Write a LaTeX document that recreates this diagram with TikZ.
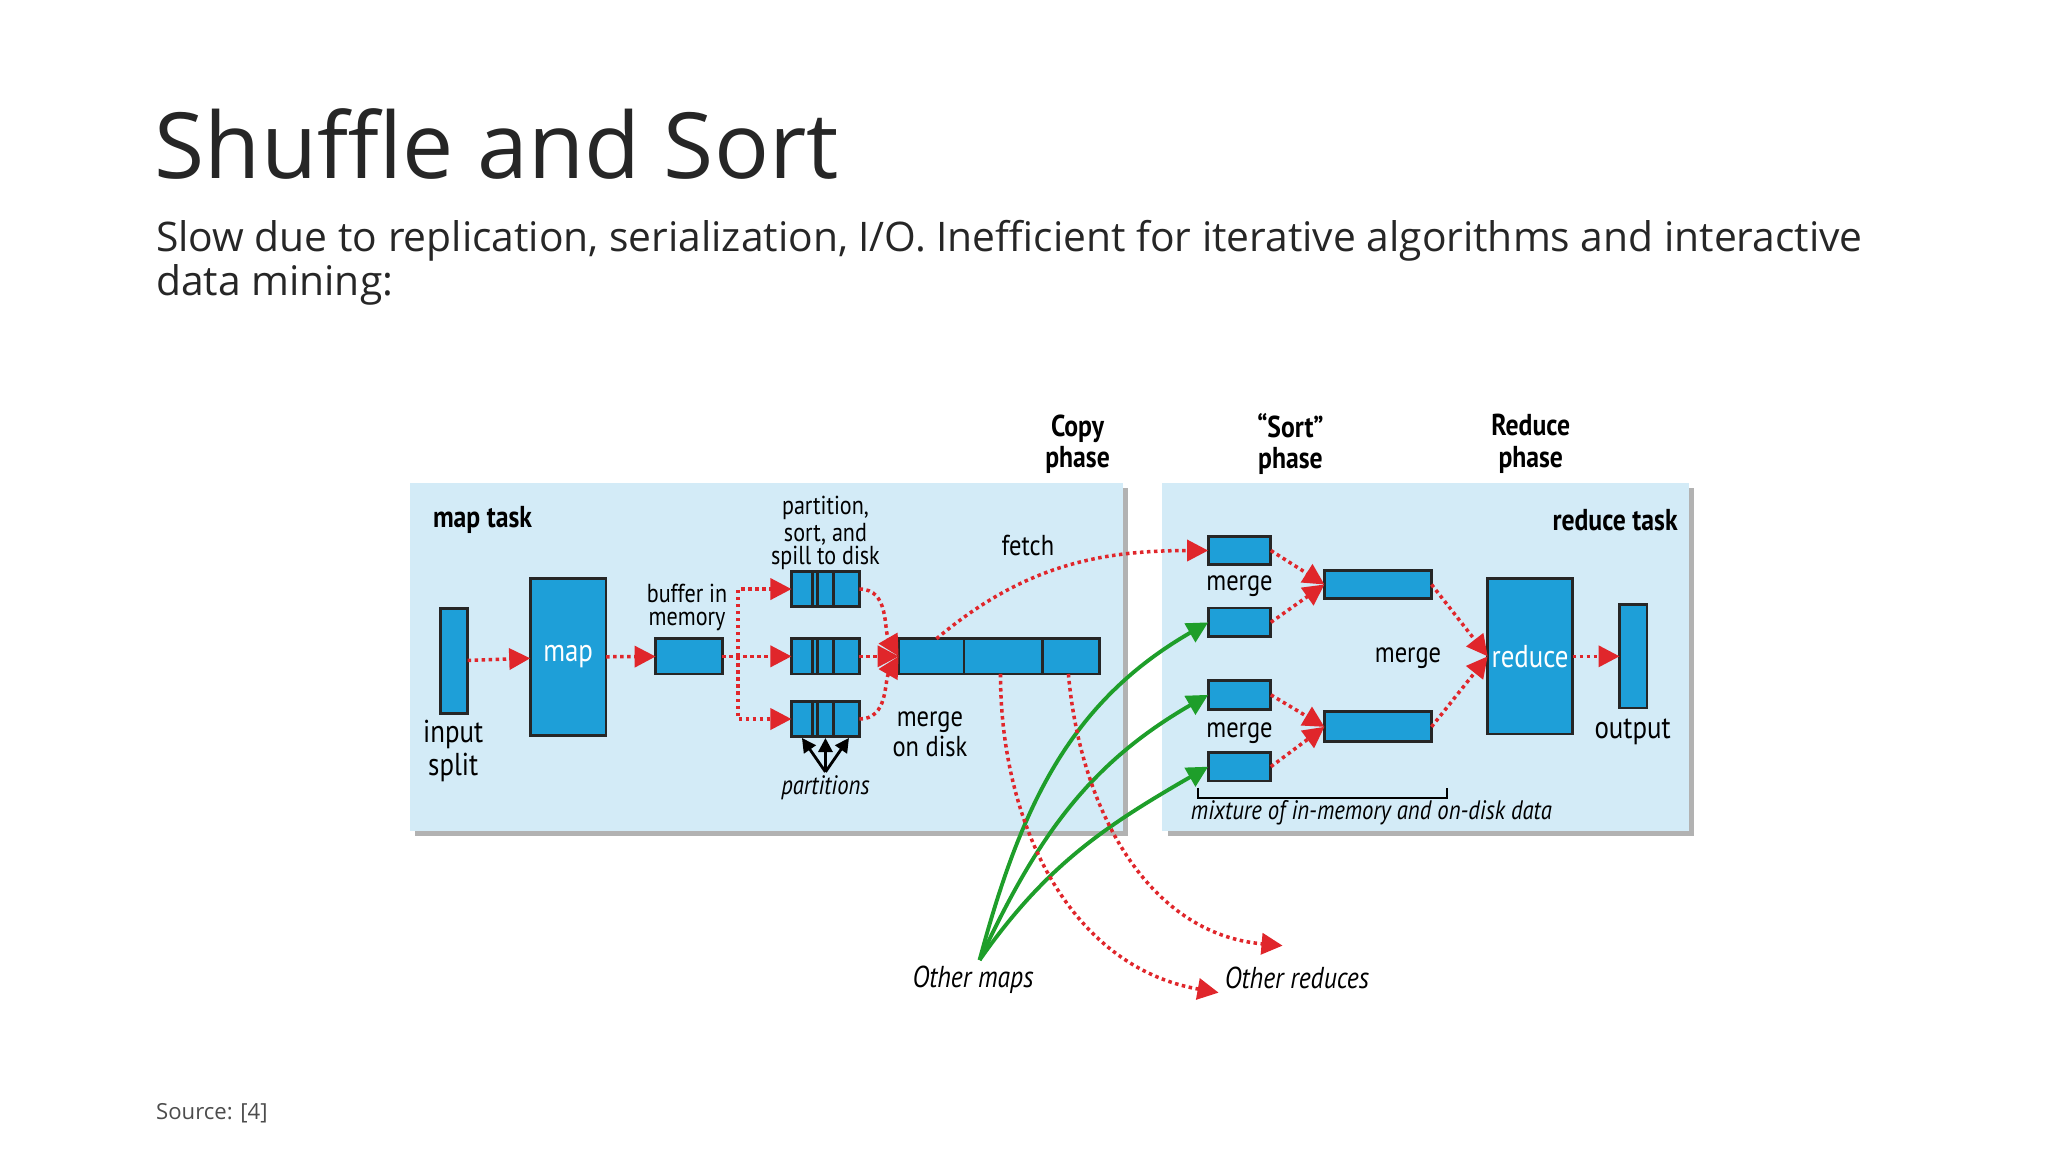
\documentclass[tikz,border=0pt]{standalone}
\usepackage{fontspec}
\setmainfont{Open Sans}
\newfontfamily\dfont{PT Sans}[FakeStretch=0.85]
\usetikzlibrary{arrows.meta,positioning}
\definecolor{panel}{HTML}{D3EBF7}
\definecolor{boxb}{HTML}{1E9FD8}
\definecolor{rd}{HTML}{E0262B}
\definecolor{gr}{HTML}{1E9E2A}
\begin{document}
\begin{tikzpicture}[x=0.01306cm,y=-0.01306cm,
 bx/.style={draw=black!85,line width=0.8pt,fill=boxb,inner sep=0,outer sep=0},
 pan/.style={fill=panel,draw=none},
 lab/.style={font=\dfont\fontsize{7.4}{6.6}\selectfont,align=center,inner sep=0},
 mlab/.style={font=\dfont\fontsize{8.2}{7.4}\selectfont,align=center,inner sep=0},
 blab/.style={font=\dfont\bfseries\fontsize{8.6}{9}\selectfont,align=center,inner sep=0},
 ilab/.style={font=\dfont\itshape\fontsize{7.6}{8}\selectfont,inner sep=0},
 ra/.style={rd,line width=1pt,densely dotted,-{Triangle[length=6pt,width=6pt]}},
 ga/.style={gr,line width=1.1pt,-{Triangle[length=6pt,width=6pt]}}]
\useasboundingbox (0,0) rectangle (1568,882);
\node[anchor=base west,inner sep=0,font=\fontsize{26}{26}\selectfont,text=black!85] (title) at (118,137) {Shuffle and Sort};
\node[anchor=north west,inner sep=0,align=left,font=\fontsize{11.6}{10.5}\selectfont,text=black!85] (sub) at (119,168) {Slow due to replication, serialization, I/O. Inefficient for iterative algorithms and interactive\\data mining:};
\node[anchor=west,inner sep=0,font=\fontsize{6.3}{7}\selectfont,text=black!70] (src) at (119,852) {Source: [4]};
% panels
\fill[black!30] (318,374) rectangle (864,640);
\fill[black!30] (894,374) rectangle (1297,640);
\path[pan] (314,370) rectangle (860,636);
\path[pan] (890,370) rectangle (1293,636);
\node[blab,anchor=west] (mt) at (331,398) {map task};
\node[blab,anchor=east] (rt) at (1285,398) {reduce task};
\node[blab] (cp) at (825,340) {Copy\\phase};
\node[blab] (sp) at (988,340) {“Sort”\\phase};
\node[blab] (rp) at (1172,340) {Reduce\\phase};
% map side
\node[bx,minimum width=21*0.01306cm,minimum height=80*0.01306cm] (in) at (347.5,506) {};
\node[mlab,font=\dfont\fontsize{9}{8}\selectfont] (inl) at (347,575) {input\\split};
\node[bx,minimum width=58*0.01306cm,minimum height=120*0.01306cm,text=white,font=\dfont\fontsize{9}{9}\selectfont] (map) at (435,503) {map};
\node[bx,minimum width=51*0.01306cm,minimum height=27*0.01306cm] (buf) at (527.5,502.5) {};
\node[lab] (bufl) at (526,465) {buffer in\\memory};
\foreach \n/\y in {p1/451,p2/502.5,p3/550.5}{
 \node[bx,minimum width=52*0.01306cm,minimum height=27*0.01306cm] (\n) at (632,\y) {};
 \draw[black!85,line width=0.8pt] (\n.north west)++(16,0) -- ++(0,27) ++(4,0) -- ++(0,-27);
 \draw[black!85,line width=0.8pt] (\n.north west)++(32,0) -- ++(0,27);
}
\node[lab] (psl) at (632,408) {partition,\\sort, and\\spill to disk};
\node[bx,minimum width=154*0.01306cm,minimum height=27*0.01306cm] (mg) at (765,502.5) {};
\draw[black!85,line width=0.8pt] (738,489) -- (738,516) (798,489) -- (798,516);
\node[mlab] (mdl) at (712,562) {merge\\on disk};
\node[ilab] (parts) at (632,603) {partitions};
\coordinate (pt) at (632,591);
\foreach \x in {614,632,650} \draw[black,line width=0.8pt,-{Triangle[length=4pt,width=4pt]}] (pt) -- (\x,565);
\node[mlab] (fetch) at (787,418) {fetch};
\draw[ra] (in) -- (map);
\draw[ra] (map) -- (buf);
\draw[ra] (buf.east) -- ++(12,0) coordinate (br) -- (p2);
\draw[ra] (br) |- (p1);
\draw[ra] (br) |- (p3);
\draw[ra] (p1.east) to[out=0,in=120] (mg.west);
\draw[ra] (p2) -- (mg);
\draw[ra] (p3.east) to[out=0,in=-120] (mg.west);
% reduce side
\foreach \n/\y in {r1/421.5,r2/476.5,r3/532,r4/587}
 \node[bx,minimum width=48*0.01306cm,minimum height=22*0.01306cm] (\n) at (949,\y) {};
\node[mlab] (m1) at (949,449) {merge};
\node[mlab] (m2) at (949,561) {merge};
\node[bx,minimum width=82*0.01306cm,minimum height=21*0.01306cm] (b1) at (1055,447.5) {};
\node[bx,minimum width=82*0.01306cm,minimum height=23*0.01306cm] (b2) at (1055,556.5) {};
\node[mlab] (m3) at (1078,504) {merge};
\node[bx,minimum width=65*0.01306cm,minimum height=119*0.01306cm,text=white,font=\dfont\fontsize{9}{9}\selectfont] (red) at (1171.5,502.5) {reduce};
\node[bx,minimum width=21*0.01306cm,minimum height=79*0.01306cm] (out) at (1250.5,502.5) {};
\node[mlab,font=\dfont\fontsize{9}{8}\selectfont] (outl) at (1250,560) {output};
\draw[ra] (r1.east) -- (b1.west);
\draw[ra] (r2.east) -- (b1.west);
\draw[ra] (r3.east) -- (b2.west);
\draw[ra] (r4.east) -- (b2.west);
\draw[ra] (b1.east) -- (red.west);
\draw[ra] (b2.east) -- (red.west);
\draw[ra] (red) -- (out);
\draw[black,line width=0.6pt] (917,603) -- (917,611) -- (1108,611) -- (1108,603);
\node[ilab] (mix) at (1050,622) {mixture of in-memory and on-disk data};
% other
\node[ilab,font=\dfont\itshape\fontsize{8.6}{9}\selectfont] (om) at (745,750) {Other maps};
\node[ilab,font=\dfont\itshape\fontsize{8.6}{9}\selectfont] (or) at (993,749) {Other reduces};
\coordinate (og) at (750,735);
\draw[ga] (og) to[out=75,in=210] (r2.west);
\draw[ga] (og) to[out=65,in=210] (r3.west);
\draw[ga] (og) to[out=55,in=210] (r4.west);
\draw[ra] (717,489) to[out=40,in=180] (r1.west);
\draw[ra] (766,516) to[out=-90,in=170] (933,760);
\draw[ra] (818,516) to[out=-85,in=175] (982,724);
\end{tikzpicture}
\end{document}
